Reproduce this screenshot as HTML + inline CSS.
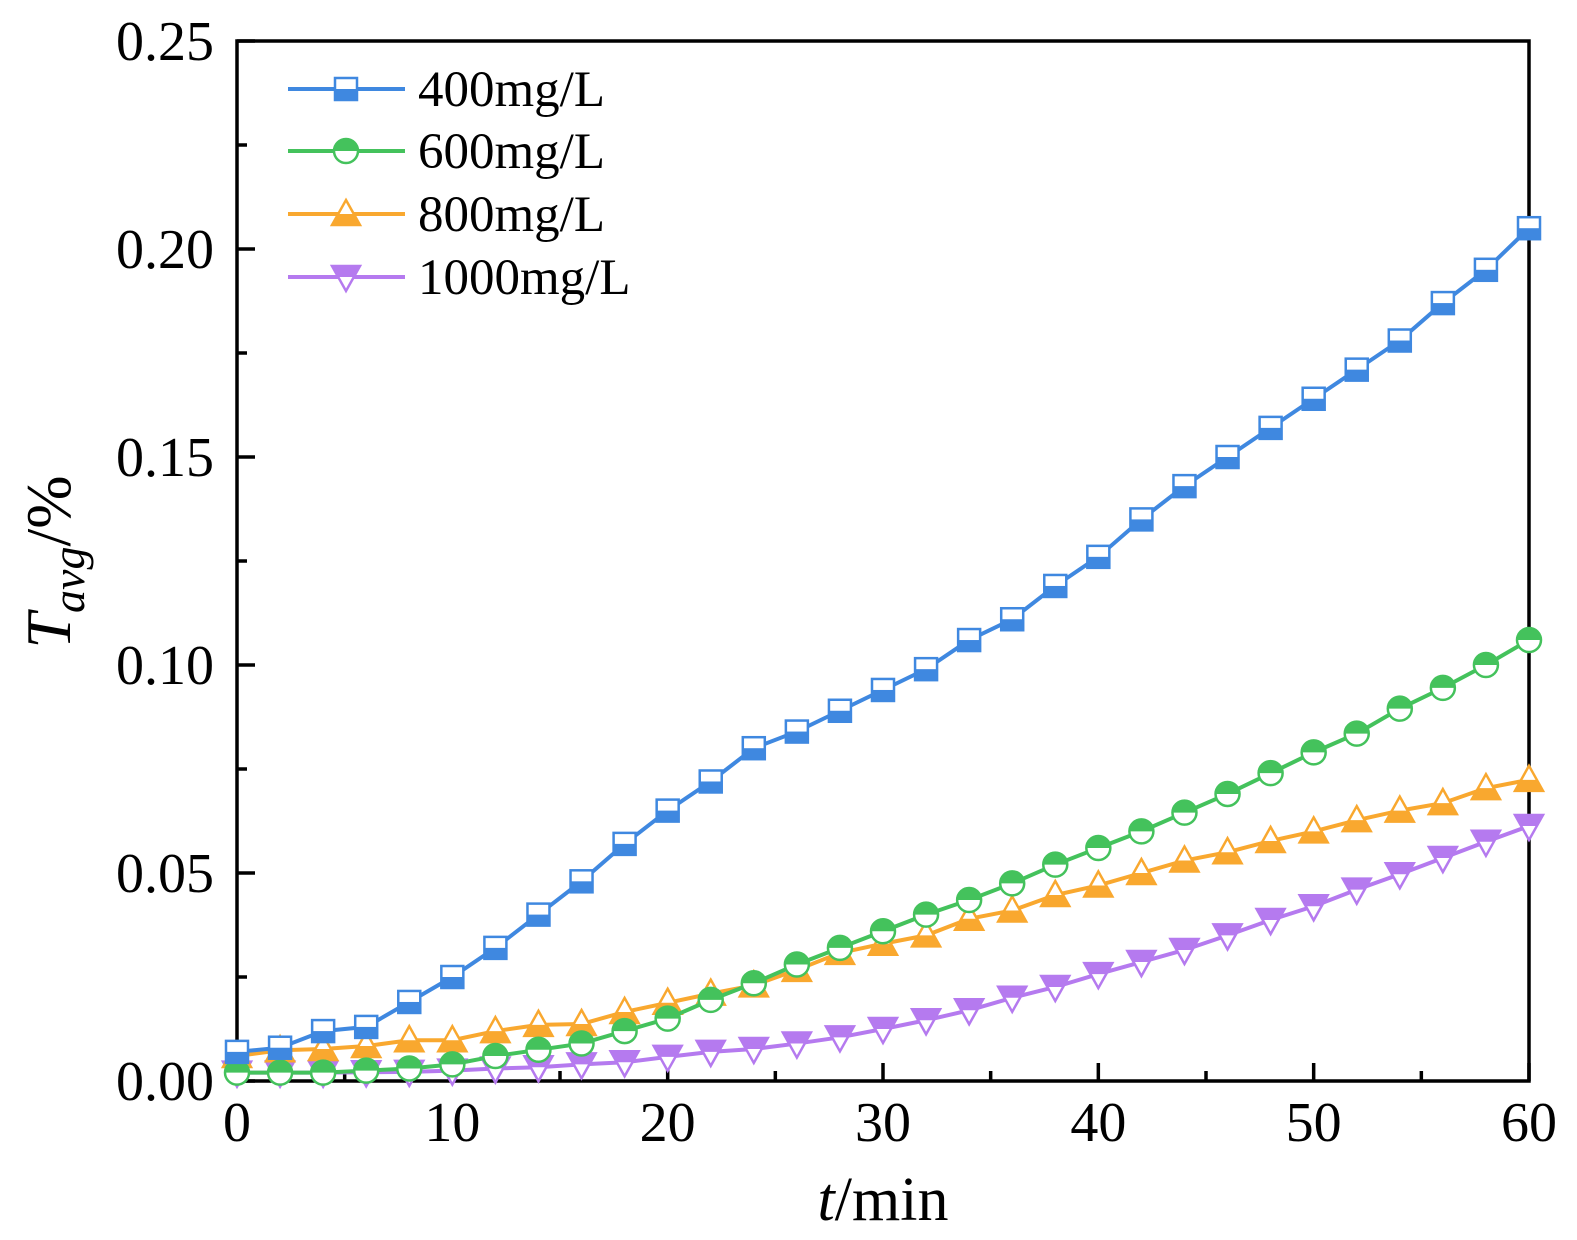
<!DOCTYPE html>
<html><head><meta charset="utf-8"><style>
body{margin:0;background:#fff}
svg{display:block;font-family:"Liberation Serif",serif}
</style></head><body>
<svg id="chart" width="1577" height="1240" viewBox="0 0 1577 1240" xmlns="http://www.w3.org/2000/svg">
<g id="axes"></g>
<g id="series"></g>
<g id="legend"></g>
<text x="883" y="1220" font-size="62" text-anchor="middle"><tspan font-style="italic">t</tspan>/min</text>
<text transform="translate(70,562) rotate(-90)" font-size="64" text-anchor="middle"><tspan font-style="italic">T</tspan><tspan font-style="italic" font-size="46" dy="14">avg</tspan><tspan dy="-14">/%</tspan></text>
</svg>
<script>
const times = [0,2,4,6,8,10,12,14,16,18,20,22,24,26,28,30,32,34,36,38,40,42,44,46,48,50,52,54,56,58,60];
const s400 = [0.007,0.008,0.012,0.013,0.019,0.025,0.032,0.040,0.048,0.057,0.065,0.072,0.080,0.084,0.089,0.094,0.099,0.106,0.111,0.119,0.126,0.135,0.143,0.150,0.157,0.164,0.171,0.178,0.187,0.195,0.205];
const s600 = [0.002,0.002,0.002,0.0025,0.003,0.004,0.006,0.0075,0.009,0.012,0.015,0.0195,0.0235,0.028,0.032,0.036,0.040,0.0435,0.0475,0.052,0.056,0.060,0.0645,0.069,0.074,0.079,0.0835,0.0895,0.0945,0.100,0.106];
const s800 = [0.006,0.0074,0.0077,0.0084,0.0098,0.0098,0.012,0.0135,0.0137,0.0166,0.0188,0.021,0.023,0.0267,0.0308,0.033,0.035,0.039,0.041,0.0447,0.047,0.050,0.053,0.055,0.0577,0.060,0.0627,0.065,0.0668,0.0704,0.0724];
const s1000 = [0.002,0.002,0.002,0.0021,0.0022,0.0025,0.003,0.0033,0.004,0.0045,0.0058,0.007,0.0077,0.009,0.0105,0.0125,0.0146,0.017,0.020,0.0226,0.0257,0.0286,0.0315,0.035,0.0387,0.042,0.046,0.0497,0.0536,0.0575,0.0613];
const seriesNames = ["400mg/L","600mg/L","800mg/L","1000mg/L"];
const xTicks = [0,10,20,30,40,50,60];
const yTicks = [0,0.05,0.10,0.15,0.20,0.25];
const yTickLabels = ["0.00","0.05","0.10","0.15","0.20","0.25"];

const NS="http://www.w3.org/2000/svg";
const X0=237,X1=1529,Y0=1081,Y1=41;
const xs=v=>X0+(v-0)/(60-0)*(X1-X0);
const ys=v=>Y0-(v-0)/(0.25-0)*(Y0-Y1);
function mk(tag,attrs,parent){const e=document.createElementNS(NS,tag);for(const k in attrs)e.setAttribute(k,attrs[k]);parent.appendChild(e);return e;}
const axes=document.getElementById('axes');
const ser=document.getElementById('series');
const leg=document.getElementById('legend');

for(let i=0;i<xTicks.length;i++){
  const x=xs(xTicks[i]);
  const t=mk('line',{x1:x,x2:x,y1:Y0,y2:Y0-18,stroke:'#000','stroke-width':3.5},axes);
  
  
  const l=mk('text',{x:x,y:Y0+60,'font-size':56,'text-anchor':'middle'},axes);
  l.textContent=xTicks[i];
  
  
  if(i<xTicks.length-1){
    const xm=xs(xTicks[i]+5);
    const m=mk('line',{x1:xm,x2:xm,y1:Y0,y2:Y0-10,stroke:'#000','stroke-width':3.5},axes);
    
    
  }
}
for(let i=0;i<yTicks.length;i++){
  const y=ys(yTicks[i]);
  const t=mk('line',{x1:X0,x2:X0+18,y1:y,y2:y,stroke:'#000','stroke-width':3.5},axes);
  
  
  const l=mk('text',{x:214,y:y+19,'font-size':56,'text-anchor':'end'},axes);
  l.textContent=yTickLabels[i];
  
  
  if(i<yTicks.length-1){
    const ym=ys(yTicks[i]+0.025);
    const m=mk('line',{x1:X0,x2:X0+10,y1:ym,y2:ym,stroke:'#000','stroke-width':3.5},axes);
    
    
  }
}
const frame=mk('rect',{x:X0,y:Y1,width:X1-X0,height:Y0-Y1,fill:'none',stroke:'#000','stroke-width':3.5},axes);



const colors=["#3f88e0","#44c25c","#f9a82f","#b57aef"];
const shapes=["square","circle","up","down"];
const data=[s400,s600,s800,s1000];

function marker(shape,cx,cy,c,g){
  const r=11;
  if(shape==='square'){
    mk('rect',{x:cx-r,y:cy-r,width:2*r,height:2*r,fill:'#fff',stroke:c,'stroke-width':2.5},g);
    mk('rect',{x:cx-r,y:cy,width:2*r,height:r,fill:c},g);
  }else if(shape==='circle'){
    mk('circle',{cx:cx,cy:cy,r:r+1,fill:'#fff',stroke:c,'stroke-width':2.5},g);
    mk('path',{d:`M${cx-r-1},${cy} A${r+1},${r+1} 0 0 1 ${cx+r+1},${cy} Z`,fill:c},g);
  }else if(shape==='up'){
    mk('polygon',{points:`${cx},${cy-14} ${cx+14},${cy+11} ${cx-14},${cy+11}`,fill:'#fff',stroke:c,'stroke-width':2.5},g);
    mk('polygon',{points:`${cx-8},${cy} ${cx+8},${cy} ${cx+14},${cy+11} ${cx-14},${cy+11}`,fill:c},g);
  }else{
    mk('polygon',{points:`${cx-14},${cy-11} ${cx+14},${cy-11} ${cx},${cy+14}`,fill:'#fff',stroke:c,'stroke-width':2.5},g);
    mk('polygon',{points:`${cx-14},${cy-11} ${cx+14},${cy-11} ${cx+8},${cy} ${cx-8},${cy}`,fill:c},g);
  }
}

for(let s=3;s>=0;s--){
  const g=mk('g',{},ser);
  
  
  const pts=times.map((t,i)=>xs(t)+','+ys(data[s][i])).join(' ');
  const pl=mk('polyline',{points:pts,fill:'none',stroke:colors[s],'stroke-width':4},g);
  
  
  times.forEach((t,i)=>{
    const mg=mk('g',{},g);
    
    
    marker(shapes[s],xs(t),ys(data[s][i]),colors[s],mg);
  });
}

const legY=[89,151,214,277];
for(let s=0;s<4;s++){
  const g=mk('g',{},leg);
  
  
  mk('line',{x1:288,x2:405,y1:legY[s],y2:legY[s],stroke:colors[s],'stroke-width':4},g);
  marker(shapes[s],346,legY[s],colors[s],g);
  const t=mk('text',{x:418,y:legY[s]+17,'font-size':51},g);
  t.textContent=seriesNames[s];
}
</script>
</body></html>
